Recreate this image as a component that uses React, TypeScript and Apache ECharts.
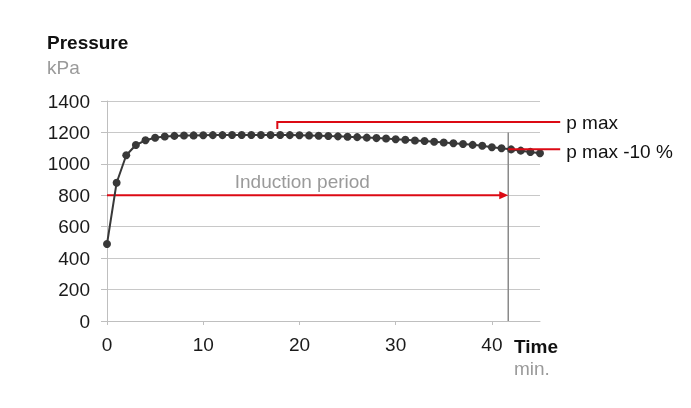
import React, { useEffect, useRef } from "react";
import * as echarts from "echarts";

const times = [
  0, 1, 2, 3, 4, 5, 6, 7, 8, 9, 10, 11, 12, 13, 14, 15, 16, 17, 18, 19, 20, 21, 22,
  23, 24, 25, 26, 27, 28, 29, 30, 31, 32, 33, 34, 35, 36, 37, 38, 39, 40, 41, 42, 43,
  44, 45,
];
const pressure = [
  490, 880, 1055, 1120, 1150, 1166, 1174, 1178, 1180, 1181, 1182, 1183, 1183, 1184,
  1184, 1184, 1184, 1184, 1184, 1183, 1182, 1181, 1179, 1177, 1175, 1173, 1170, 1167,
  1164, 1161, 1157, 1153, 1149, 1145, 1141, 1136, 1131, 1126, 1121, 1115, 1106, 1099,
  1092, 1084, 1076, 1068,
];
const xTickValues = [0, 10, 20, 30, 40];

// annotation values (data units)
const pMaxLevel = 1267;
const pMaxStubBottom = 1222;
const pMaxMarkTime = 17.7;
const pMax10Level = 1093;
const inductionEnd = 41.7;
const inductionLevel = 800;
const cursorTop = 1200;
const annotationEnd = 47.1;
const inductionLabelTime = 20.3;

const FONT = '"Liberation Sans", Arial, sans-serif';
const RED = "#dc0a14";
const AXIS = "#bfbfbf";
const FS = 19;

export default function App() {
  const ref = useRef<HTMLDivElement>(null);
  useEffect(() => {
    if (!ref.current) return;
    const chart = echarts.init(ref.current, null, { renderer: "svg" });
    chart.setOption({
      animation: false,
      grid: { left: 107, right: 151, top: 101, bottom: 87, containLabel: false },
      xAxis: {
        type: "value",
        min: 0,
        max: 45,
        interval: 10,
        axisLine: { show: true, onZero: false, lineStyle: { color: AXIS, width: 1 } },
        axisTick: { show: true, length: 4, lineStyle: { color: AXIS }, customValues: xTickValues },
        axisLabel: {
          customValues: xTickValues,
          fontSize: FS,
          color: "#1a1a1a",
          fontFamily: FONT,
          margin: 14,
        },
        splitLine: { show: false },
      },
      yAxis: {
        type: "value",
        min: 0,
        max: 1400,
        interval: 200,
        axisLine: { show: true, lineStyle: { color: AXIS, width: 1 } },
        axisTick: { show: true, length: 6, lineStyle: { color: AXIS } },
        axisLabel: {
          fontSize: FS,
          color: "#1a1a1a",
          fontFamily: FONT,
          margin: 17,
          formatter: (v: number) => String(v),
        },
        splitLine: { show: true, lineStyle: { color: "#c8c8c8", width: 1 } },
      },
      series: [
        {
          type: "line",
          data: times.map((t, i) => [t, pressure[i]]),
          symbol: "circle",
          symbolSize: 8,
          showSymbol: true,
          lineStyle: { color: "#383838", width: 2 },
          itemStyle: { color: "#383838" },
          z: 5,
        },
      ],
    });

    const p = (x: number, y: number) =>
      chart.convertToPixel({ gridIndex: 0 }, [x, y]) as number[];

    const a0 = p(0, inductionLevel);
    const a1 = p(inductionEnd, inductionLevel);
    const pm0 = p(pMaxMarkTime, pMaxStubBottom);
    const pm1 = p(pMaxMarkTime, pMaxLevel);
    const pm2 = p(annotationEnd, pMaxLevel);
    const q0 = p(inductionEnd, pMax10Level);
    const q1 = p(annotationEnd, pMax10Level);
    const v0 = p(inductionEnd, 0);
    const v1 = p(inductionEnd, cursorTop);
    const mid = p(inductionLabelTime, inductionLevel);
    const xEnd = p(45, 0);
    const yTop = p(0, 1400);

    const txt = (
      x: number,
      y: number,
      text: string,
      fill: string,
      bold = false,
      align = "left"
    ) => ({
      type: "text",
      x,
      y,
      z: 10,
      style: {
        text,
        fill,
        fontSize: FS,
        fontFamily: FONT,
        fontWeight: bold ? "bold" : "normal",
        align,
        verticalAlign: "middle",
      },
    });

    chart.setOption({
      graphic: [
        {
          type: "line",
          z: 3,
          shape: { x1: v0[0], y1: v0[1], x2: v1[0], y2: v1[1] },
          style: { stroke: "#8a8a8a", lineWidth: 1.5 },
        },
        {
          type: "line",
          z: 4,
          shape: { x1: a0[0], y1: a0[1], x2: a1[0] - 7, y2: a1[1] },
          style: { stroke: RED, lineWidth: 2 },
        },
        {
          type: "polygon",
          z: 4,
          shape: {
            points: [
              [a1[0], a1[1]],
              [a1[0] - 9, a1[1] - 4],
              [a1[0] - 9, a1[1] + 4],
            ],
          },
          style: { fill: RED },
        },
        {
          type: "polyline",
          z: 4,
          shape: { points: [pm0, pm1, pm2] },
          style: { stroke: RED, lineWidth: 2, fill: null },
        },
        {
          type: "line",
          z: 6,
          shape: { x1: q0[0], y1: q0[1], x2: q1[0], y2: q1[1] },
          style: { stroke: RED, lineWidth: 2 },
        },
        txt(mid[0], mid[1] - 14, "Induction period", "#9a9a9a", false, "center"),
        txt(pm2[0] + 6, pm2[1] + 1, "p max", "#111111"),
        txt(q1[0] + 6, q1[1] + 2, "p max -10 %", "#111111"),
        txt(47, yTop[1] - 59, "Pressure", "#111111", true),
        txt(47, yTop[1] - 34, "kPa", "#9a9a9a"),
        txt(xEnd[0] - 26, xEnd[1] + 25, "Time", "#111111", true),
        txt(xEnd[0] - 26, xEnd[1] + 47, "min.", "#9a9a9a"),
      ],
    });

    return () => chart.dispose();
  }, []);
  return (
    <div
      ref={ref}
      style={{ position: "fixed", left: 0, top: 0, width: 691, height: 408 }}
    />
  );
}
